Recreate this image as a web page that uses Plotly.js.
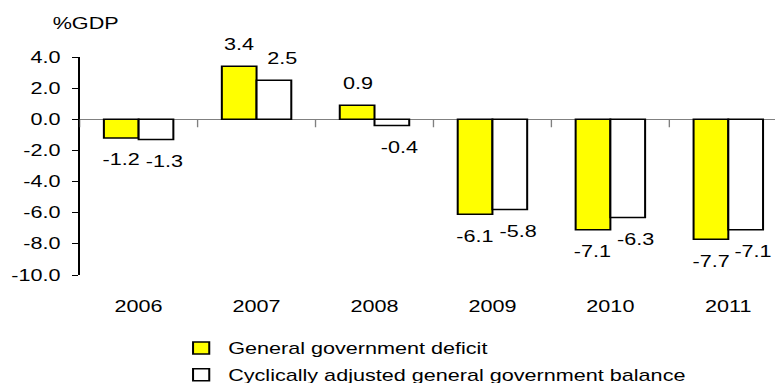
<!DOCTYPE html>
<html>
<head>
<meta charset="utf-8">
<script src="https://cdn.plot.ly/plotly-3.0.1.min.js"></script>
<style>
  html, body { margin: 0; padding: 0; overflow: hidden; background: #ffffff; }
  #chart { transform-origin: 0 0; }
</style>
</head>
<body>
<div id="chart"></div>
<script>
// ---- data ----
const categories = ['2006', '2007', '2008', '2009', '2010', '2011'];
const deficit = [-1.2, 3.4, 0.9, -6.1, -7.1, -7.7];
const cyclical = [-1.3, 2.5, -0.4, -5.8, -6.3, -7.1];
const seriesNames = ['General government deficit', 'Cyclically adjusted general government balance'];
const yTickVals = [4, 2, 0, -2, -4, -6, -8, -10];
const yTickText = ['4.0', '2.0', '0.0', '-2.0', '-4.0', '-6.0', '-8.0', '-10.0'];
const yUnit = '%GDP';

// ---- geometry (the reference is horizontally stretched) ----
const SX = 1.35;
const W = 775 / SX;
const H = 383;
const mL = 80 / SX, mR = 0, mT = 57.3, mB = H - 275;
const plotH = H - mT - mB;
const catW = (W - mL - mR) / 5.895;
const xRange = [-0.5, -0.5 + 5.895];
const bargap = 0.411;
const off = (1 - bargap) / 4 * catW;
const secondLabelNudge = 6;

const el = document.getElementById('chart');
el.style.width = W + 'px';
el.style.height = H + 'px';
el.style.transform = 'scaleX(' + SX + ')';

const font = { family: '"Liberation Sans", Arial, sans-serif', size: 16, color: '#000000' };

const traces = [
  { type: 'bar', name: seriesNames[0], x: categories, y: deficit, legendgroup: 'a',
    marker: { color: '#FFFF00', line: { color: '#000000', width: 1.5 } }, hoverinfo: 'skip' },
  { type: 'bar', name: seriesNames[1], x: categories, y: cyclical, legendgroup: 'b',
    marker: { color: '#FFFFFF', line: { color: '#000000', width: 1.5 } }, hoverinfo: 'skip' }
];

const annotations = [];
[[deficit, -off], [cyclical, off + secondLabelNudge]].forEach(function (pair) {
  const vals = pair[0], dx = pair[1];
  vals.forEach(function (v, i) {
    annotations.push({ x: i, y: v, xref: 'x', yref: 'y', text: v.toFixed(1),
      showarrow: false, xanchor: 'center', yanchor: 'middle',
      xshift: dx, yshift: v >= 0 ? 22 : -22, font: font });
  });
});
annotations.push({ xref: 'paper', yref: 'paper', x: (63.3 - mL) / (W - mL), y: 1 + (mT - 23.7) / plotH,
  xanchor: 'center', yanchor: 'middle', text: yUnit, showarrow: false, font: font });

// category-boundary tick marks hanging from the zero line
const shapes = [];
for (let i = 0; i <= categories.length; i++) {
  shapes.push({ type: 'line', xref: 'x', yref: 'y', x0: i - 0.5, x1: i - 0.5,
    ysizemode: 'pixel', yanchor: 0, y0: 0, y1: -8, line: { color: '#808080', width: 1 } });
}

const layout = {
  width: W, height: H,
  margin: { l: mL, r: mR, t: mT, b: mB, pad: 0, autoexpand: false },
  paper_bgcolor: '#ffffff', plot_bgcolor: 'rgba(0,0,0,0)',
  font: font,
  barmode: 'group', bargap: bargap, bargroupgap: 0,
  showlegend: true,
  legend: { orientation: 'v', xref: 'container', yref: 'container',
    x: 129 / W, y: 1 - 331 / H, xanchor: 'left', yanchor: 'top',
    font: font, traceorder: 'grouped', tracegroupgap: 3, bgcolor: 'rgba(0,0,0,0)' },
  xaxis: { type: 'category', range: xRange, showline: false, showgrid: false, zeroline: false,
    ticks: '', tickfont: font, ticklabelstandoff: 20, tickangle: 0, automargin: false, fixedrange: true },
  yaxis: { range: [-10, 4], tickvals: yTickVals, ticktext: yTickText, showline: true,
    linecolor: '#000000', linewidth: 1, ticks: 'outside', ticklen: 5, tickwidth: 1,
    tickcolor: '#000000', showgrid: false, zeroline: true, zerolinecolor: '#808080',
    zerolinewidth: 1, tickfont: font, ticklabelstandoff: 5, automargin: false, fixedrange: true },
  shapes: shapes,
  annotations: annotations
};

Plotly.newPlot(el, traces, layout, { displayModeBar: false, staticPlot: true });
</script>
</body>
</html>
